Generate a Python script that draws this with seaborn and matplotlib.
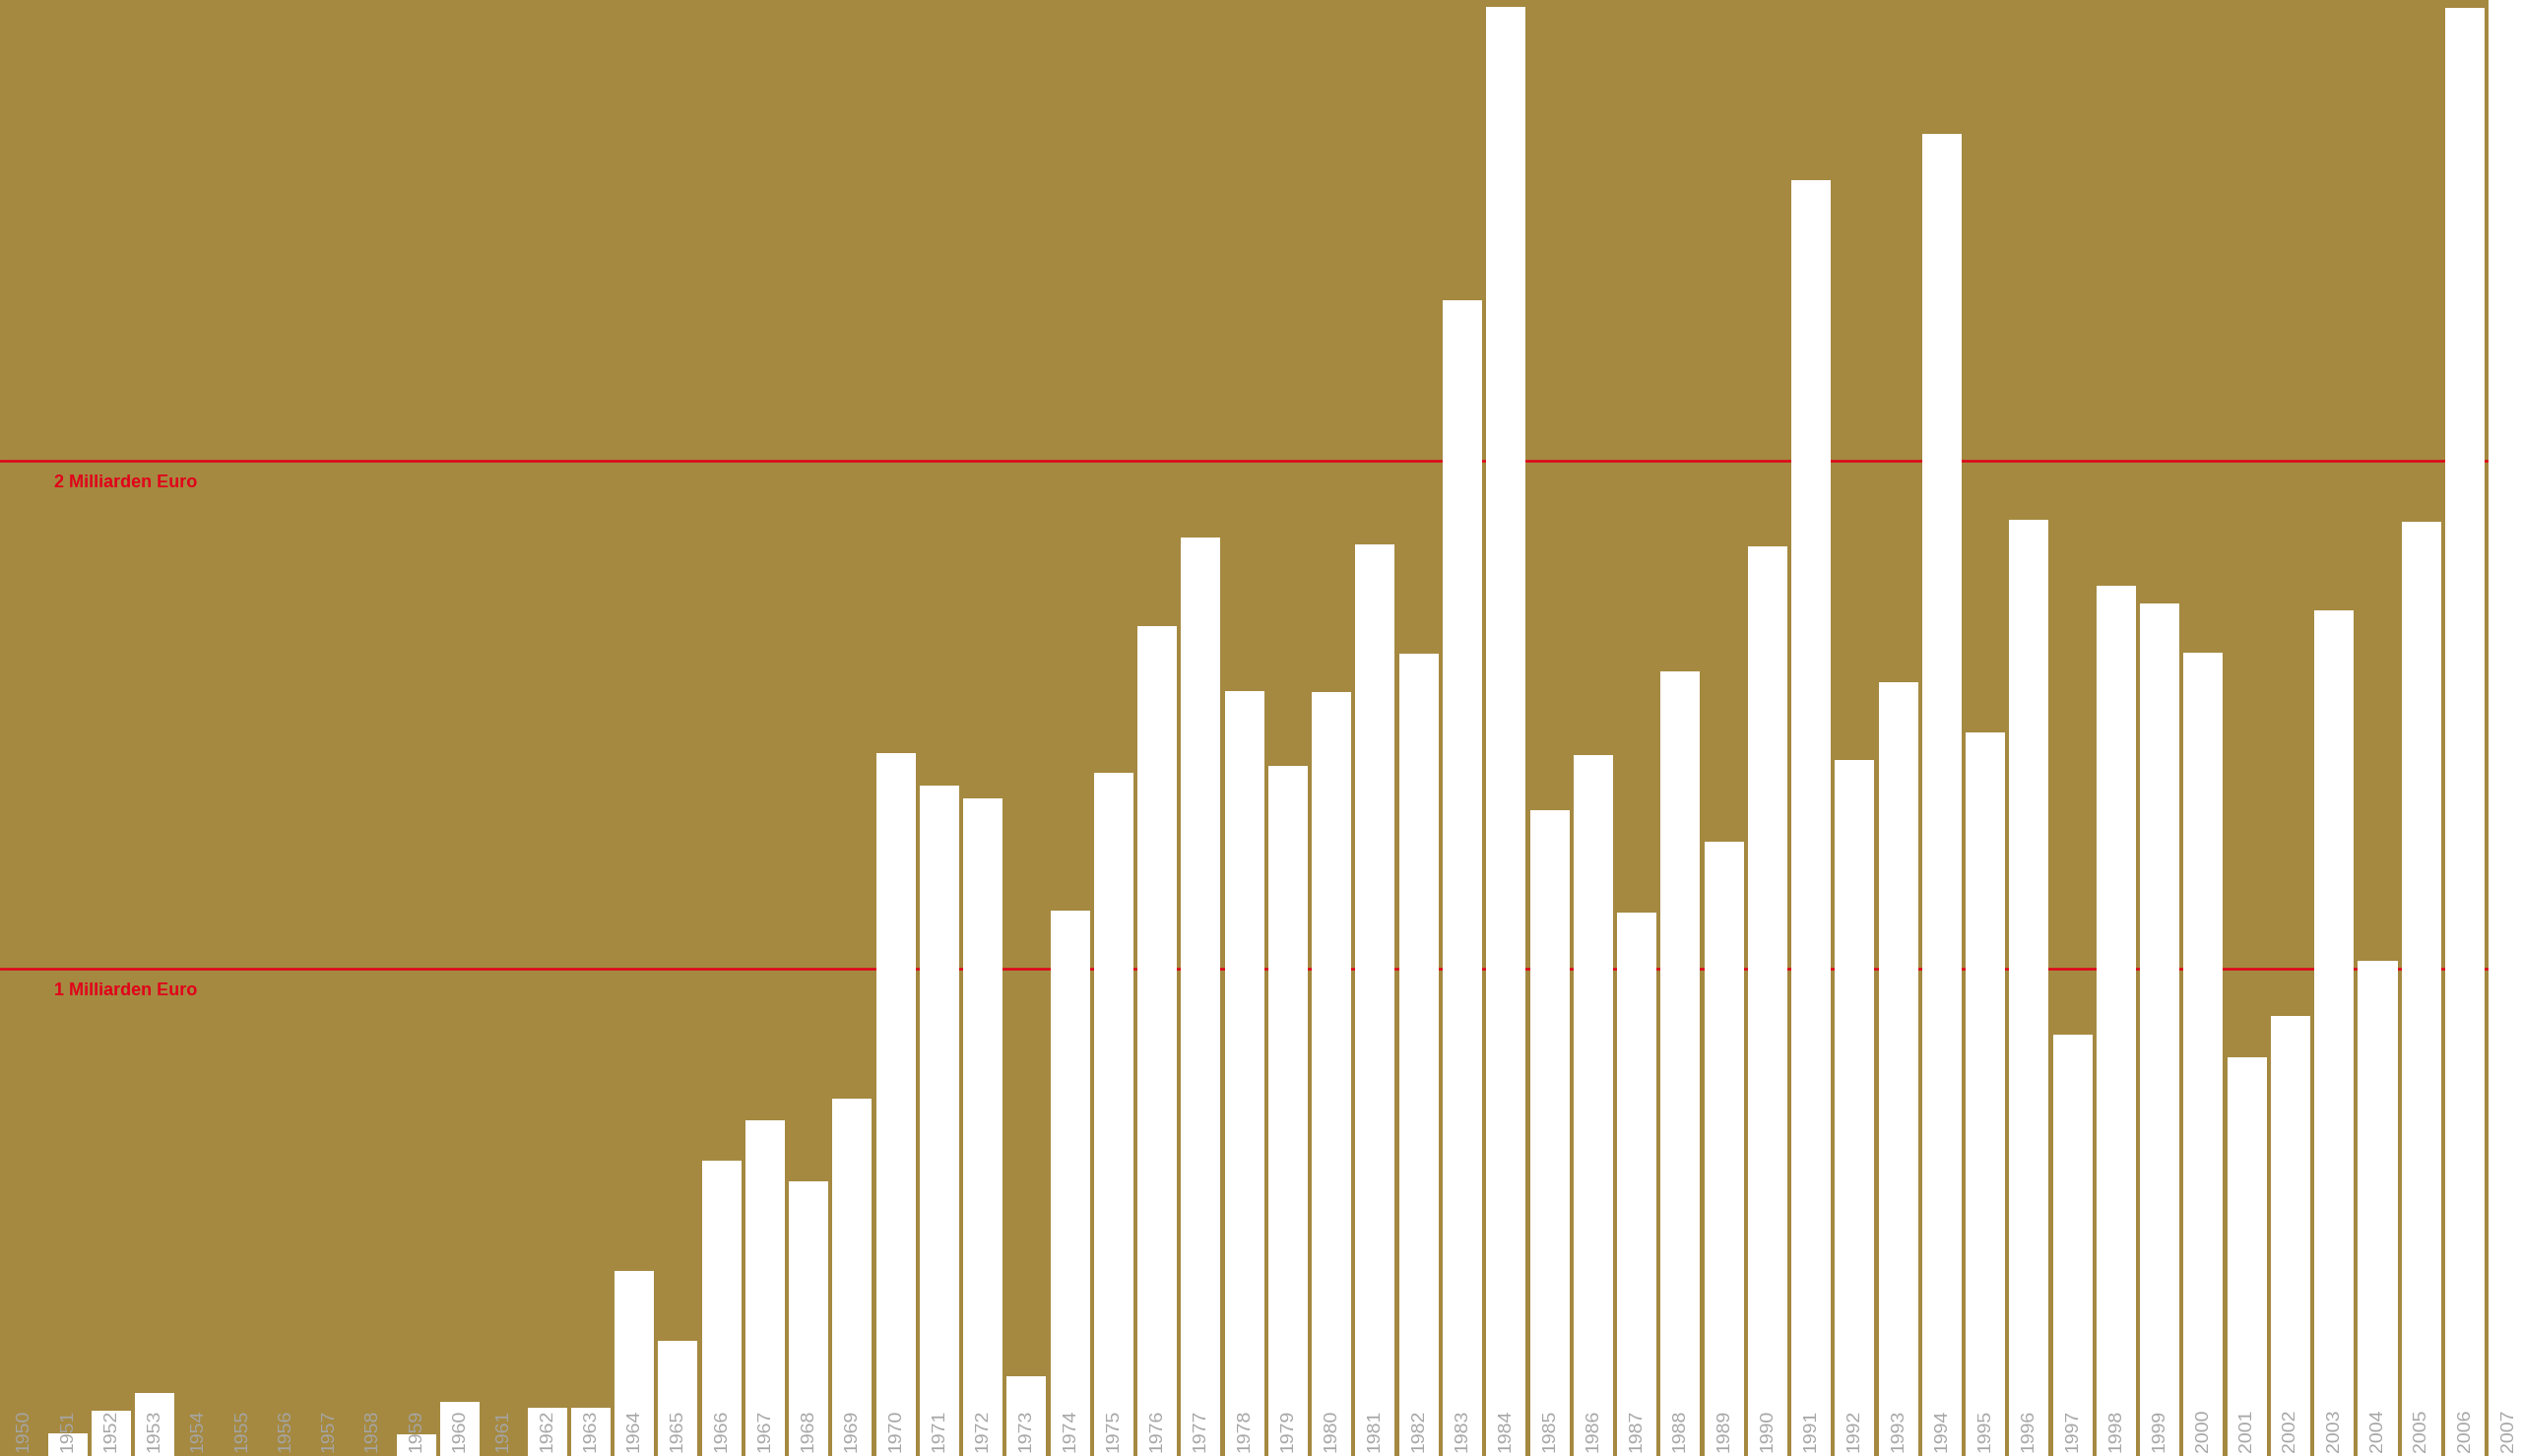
import matplotlib
matplotlib.use("Agg")
import matplotlib.pyplot as plt
import matplotlib.transforms as mtransforms
import seaborn as sns
import pandas as pd

# Jahreswerte in Milliarden Euro
years = list(range(1950, 2008))
values = [
    0.0, 0.086, 0.131, 0.165, 0.0, 0.0, 0.0, 0.0, 0.0, 0.085,   # 1950-1959
    0.149, 0.0, 0.136, 0.136, 0.405, 0.269, 0.623, 0.703, 0.582, 0.744,  # 1960-1969
    1.424, 1.361, 1.335, 0.199, 1.114, 1.386, 1.674, 1.848, 1.547, 1.399,  # 1970-1979
    1.544, 1.835, 1.620, 2.316, 2.893, 1.313, 1.421, 1.111, 1.585, 1.250,  # 1980-1989
    1.832, 2.551, 1.411, 1.563, 2.642, 1.465, 1.883, 0.870, 1.753, 1.718,  # 1990-1999
    1.623, 0.826, 0.908, 1.706, 1.016, 1.880, 2.891, 3.100,  # 2000-2007
]
year_labels = [str(y) for y in years]

reference_levels = [1, 2]
reference_texts = ["1 Milliarden Euro", "2 Milliarden Euro"]

BG = "#A58940"
RED = "#E2001A"
GREY = "#A6A6A6"

sns.set_theme(style="white")
plt.rcParams["font.family"] = ["Liberation Sans", "DejaVu Sans"]

df = pd.DataFrame({"Jahr": year_labels, "Wert": values})

fig = plt.figure(figsize=(25.61, 14.79), dpi=100, facecolor=BG)
ax = fig.add_axes([0, 0, 1, 1])
ax.set_facecolor(BG)

# Referenzlinien hinter den Balken
for lvl in reference_levels:
    ax.axhline(lvl, color=RED, linewidth=1.8, zorder=0)

sns.barplot(data=df, x="Jahr", y="Wert", order=year_labels, color="white",
            saturation=1, width=0.904, linewidth=0, ax=ax, zorder=2)

ax.set_xlim(-0.551, 57.31)
ax.set_ylim(0.0418, 2.906)

# Beschriftung der Referenzlinien
trans = mtransforms.blended_transform_factory(ax.transAxes, ax.transData)
for lvl, txt in zip(reference_levels, reference_texts):
    ax.text(0.0215, lvl - 0.052, txt, transform=trans, color=RED,
            fontsize=13, fontweight="bold", ha="left", va="baseline", zorder=3)

# Jahreszahlen senkrecht am unteren Rand
trans_x = mtransforms.blended_transform_factory(ax.transData, ax.transAxes)
for i, lab in enumerate(year_labels):
    ax.text(i, 0.003, lab, transform=trans_x, rotation=90, color=GREY,
            fontsize=14, ha="center", va="bottom", zorder=4)

ax.set_xlabel("")
ax.set_ylabel("")
ax.set_xticks([])
ax.set_yticks([])
for s in ax.spines.values():
    s.set_visible(False)

fig.savefig("out.png", dpi=100, facecolor=BG)
